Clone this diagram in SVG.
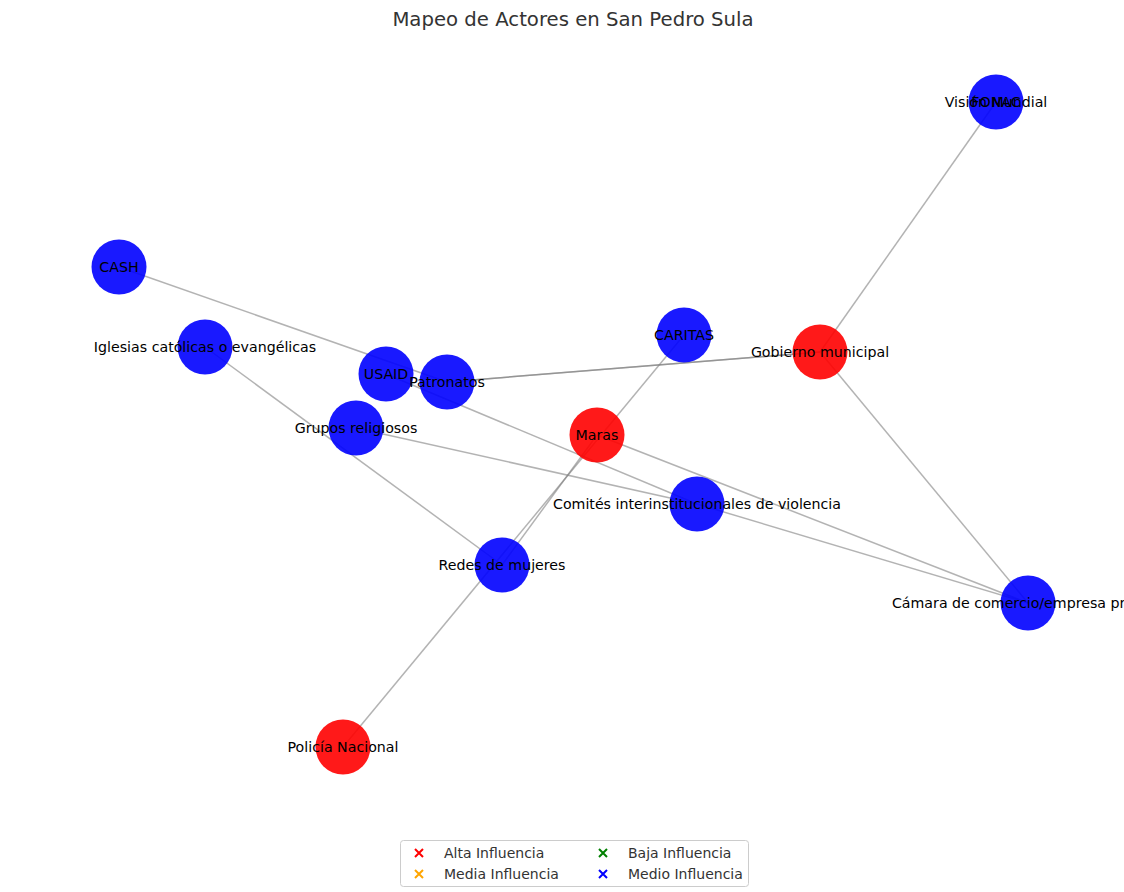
<svg xmlns="http://www.w3.org/2000/svg" width="1124" height="892" viewBox="0 0 1124 892">
<style>
.e{stroke:#808080;stroke-opacity:0.6;stroke-width:1.5;fill:none}
.nb{fill:#0000ff;fill-opacity:0.9}
.nr{fill:#ff0000;fill-opacity:0.9}
.lbl{font-family:"DejaVu Sans",sans-serif;font-size:14.2px;fill:#000;text-anchor:middle;dominant-baseline:central}
.title{font-family:"DejaVu Sans",sans-serif;font-size:19.7px;fill:#333;text-anchor:middle}
.leg{font-family:"DejaVu Sans",sans-serif;font-size:14px;fill:#333;dominant-baseline:central}
.mk{stroke-width:2;fill:none}
</style>
<rect width="1124" height="892" fill="#fff"/>
<text class="title" x="573" y="26">Mapeo de Actores en San Pedro Sula</text>
<g id="edges">
<line class="e" x1="996" y1="102" x2="820" y2="352"/>
<line class="e" x1="119" y1="267" x2="447" y2="382"/>
<line class="e" x1="447" y1="382" x2="820" y2="352"/>
<line class="e" x1="447" y1="382" x2="820" y2="352"/>
<line class="e" x1="205" y1="347" x2="502" y2="565"/>
<line class="e" x1="386" y1="374" x2="697" y2="504"/>
<line class="e" x1="356" y1="428" x2="697" y2="504"/>
<line class="e" x1="597" y1="435" x2="1028" y2="603"/>
<line class="e" x1="697" y1="504" x2="1028" y2="603"/>
<line class="e" x1="820" y1="352" x2="1028" y2="603"/>
<line class="e" x1="684" y1="335" x2="343" y2="747"/>
<line class="e" x1="502" y1="565" x2="597" y2="435"/>
</g>
<g id="n-fonac"><circle class="nb" cx="996" cy="102" r="27.5"/></g>
<g id="n-cash"><circle class="nb" cx="119" cy="267" r="27.5"/><text class="lbl" x="119" y="267">CASH</text></g>
<g id="n-iglesias"><circle class="nb" cx="205" cy="347" r="27.5"/><text class="lbl" x="205" y="347">Iglesias católicas o evangélicas</text></g>
<g id="n-usaid"><circle class="nb" cx="386" cy="374" r="27.5"/><text class="lbl" x="386" y="374">USAID</text></g>
<g id="n-patronatos"><circle class="nb" cx="447" cy="382" r="27.5"/><text class="lbl" x="447" y="382">Patronatos</text></g>
<g id="n-caritas"><circle class="nb" cx="684" cy="335" r="27.5"/><text class="lbl" x="684" y="335">CARITAS</text></g>
<g id="n-gobierno"><circle class="nr" cx="820" cy="352" r="27.5"/><text class="lbl" x="820" y="352">Gobierno municipal</text></g>
<g id="n-grupos"><circle class="nb" cx="356" cy="428" r="27.5"/><text class="lbl" x="356" y="428">Grupos religiosos</text></g>
<g id="n-maras"><circle class="nr" cx="597" cy="435" r="27.5"/><text class="lbl" x="597" y="435">Maras</text></g>
<g id="n-comites"><circle class="nb" cx="697" cy="504" r="27.5"/><text class="lbl" x="697" y="504">Comités interinstitucionales de violencia</text></g>
<g id="n-redes"><circle class="nb" cx="502" cy="565" r="27.5"/><text class="lbl" x="502" y="565">Redes de mujeres</text></g>
<g id="n-camara"><circle class="nb" cx="1028" cy="603" r="27.5"/><text class="lbl" x="1028" y="603">Cámara de comercio/empresa privada</text></g>
<g id="n-policia"><circle class="nr" cx="343" cy="747" r="27.5"/><text class="lbl" x="343" y="747">Policía Nacional</text></g>
<g id="n-fonac-labels"><text class="lbl" x="996" y="102">Visión Mundial</text><text class="lbl" x="996" y="102">FONAC</text></g>
<g id="legend">
<rect x="400.5" y="840.5" width="348" height="46" rx="3" fill="#fff" fill-opacity="0.8" stroke="#ccc"/>
<path class="mk" stroke="#ff0000" d="M415 849l8 8M423 849l-8 8"/>
<path class="mk" stroke="#ffa500" d="M415 870l8 8M423 870l-8 8"/>
<path class="mk" stroke="#008000" d="M599 849l8 8M607 849l-8 8"/>
<path class="mk" stroke="#0000ff" d="M599 870l8 8M607 870l-8 8"/>
<text class="leg" x="444" y="853">Alta Influencia</text>
<text class="leg" x="444" y="874">Media Influencia</text>
<text class="leg" x="628" y="853">Baja Influencia</text>
<text class="leg" x="628" y="874">Medio Influencia</text>
</g>
</svg>
